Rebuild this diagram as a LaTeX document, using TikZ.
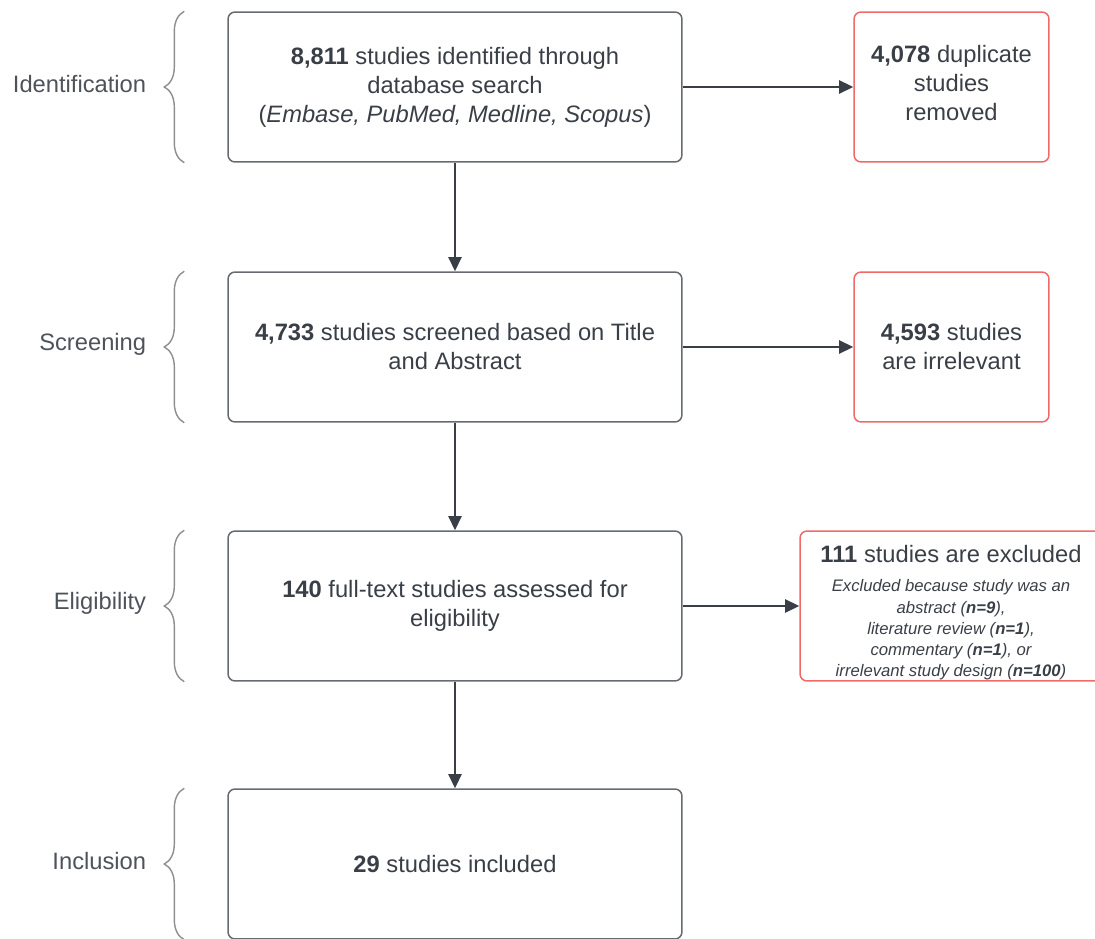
\documentclass[tikz,border=0pt]{standalone}
\usepackage{fontspec}
\setmainfont{Liberation Sans}
\usepackage{tikz}
\usetikzlibrary{arrows.meta, positioning, decorations.pathreplacing}
\definecolor{ink}{HTML}{3A3F47}
\definecolor{boxgray}{HTML}{676B71}
\definecolor{exred}{HTML}{F06A6A}
\definecolor{bracegray}{HTML}{8E8E8E}
\newcommand{\exline}[1]{{\fontsize{9.5}{12}\selectfont\itshape #1}}

\begin{document}
\begin{tikzpicture}[x=0.02cm, y=-0.02cm,
  stage/.style={draw=boxgray, line width=0.85pt, rounded corners=4pt, minimum width=9.08cm, minimum height=3cm, align=center, text=ink, font=\fontsize{13.5}{16.5}\selectfont},
  drop/.style={stage, draw=exred, minimum width=3.9cm},
  phase/.style={anchor=east, text=ink!90, font=\fontsize{13.5}{16.5}\selectfont},
  flow/.style={draw=ink, line width=0.85pt, -{Triangle[length=8pt,width=7.5pt]}},
  curly/.style={draw=bracegray, line width=0.8pt, decorate, decoration={brace, amplitude=0.4cm}}]
  \useasboundingbox (0,0) rectangle (1095,939);

  % main stages
  \node[stage] (ident) at (455,87) {\textbf{8,811} studies identified through\\ database search\\ (\textit{Embase, PubMed, Medline, Scopus})};
  \node[stage] (screen) at (455,347) {\textbf{4,733} studies screened based on Title\\ and Abstract};
  \node[stage] (elig) at (455,606) {\textbf{140} full-text studies assessed for\\ eligibility};
  \node[stage] (incl) at (455,864) {\textbf{29} studies included};

  % removed records
  \node[drop] (dup) at (951.5,87) {\textbf{4,078} duplicate\\ studies\\ removed\rule[-5pt]{0pt}{5pt}};
  \node[drop] (irr) at (951.5,347) {\textbf{4,593} studies\\ are irrelevant};
  \node[drop, minimum width=6.04cm, inner ysep=0pt, font=\fontsize{9.5}{12}\selectfont] (excl) at (951,606)
    {{\fontsize{13.5}{16.5}\selectfont\rule{0pt}{17pt}\textbf{111} studies are excluded}\\[5pt]
     \exline{Excluded because study was an}\\ \exline{abstract (\textbf{n=9}),}\\
     \exline{literature review (\textbf{n=1}),}\\ \exline{commentary (\textbf{n=1}), or}\\
     \exline{irrelevant study design (\textbf{n=100})}};

  % arrows
  \draw[flow] (ident) -- (screen);
  \draw[flow] (screen) -- (elig);
  \draw[flow] (elig) -- (incl);
  \draw[flow] (ident) -- (dup);
  \draw[flow] (screen) -- (irr);
  \draw[flow] (elig) -- (excl);

  % phase labels with braces
  \foreach \stg/\name in {ident/Identification, screen/Screening, elig/Eligibility, incl/Inclusion} {
    \draw[curly] ([xshift=-0.86cm]\stg.south west) -- ([xshift=-0.86cm]\stg.north west);
    \node[phase] (lab-\stg) at ([xshift=-1.5cm, yshift=0.06cm]\stg.west) {\name};
  }
\end{tikzpicture}
\end{document}
